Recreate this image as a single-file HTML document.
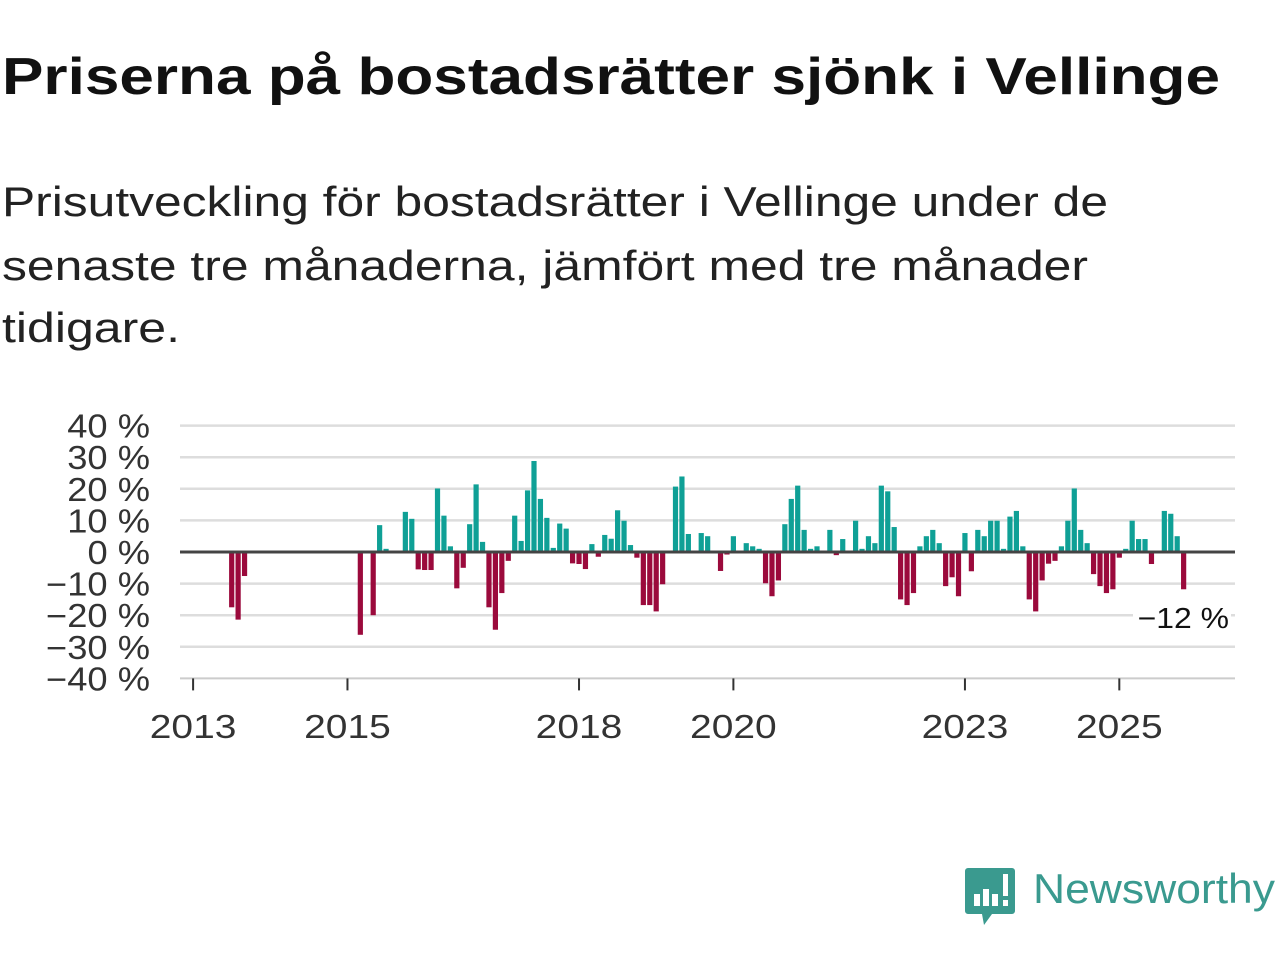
<!DOCTYPE html>
<html><head><meta charset="utf-8"><style>
body{margin:0;width:1280px;height:960px;background:#fff;overflow:hidden;font-family:"Liberation Sans","DejaVu Sans",sans-serif;position:relative}
.t{position:absolute;left:2px;top:47px;font-size:52px;font-weight:bold;color:#111;white-space:nowrap;transform-origin:0 0}
.s{position:absolute;left:2px;font-size:42px;color:#222;white-space:nowrap;transform-origin:0 0}
svg{position:absolute;left:0;top:0}
</style></head><body>
<div class="t fit" data-w="1218">Priserna på bostadsrätter sjönk i Vellinge</div>
<div class="s fit" data-w="1106" style="top:178px">Prisutveckling för bostadsrätter i Vellinge under de</div>
<div class="s fit" data-w="1086" style="top:242px">senaste tre månaderna, jämfört med tre månader</div>
<div class="s fit" data-w="178" style="top:304px">tidigare.</div>
<svg id="c" width="1280" height="960"></svg>
<svg width="1280" height="960" style="pointer-events:none">
<path d="M968,868 h44 a3,3 0 0 1 3,3 v40 a3,3 0 0 1 -3,3 h-20 l-8,11 l-2,-11 h-14 a3,3 0 0 1 -3,-3 v-40 a3,3 0 0 1 3,-3z" fill="#3a9a8f"/>
<rect x="974" y="894" width="6" height="12" fill="#fff"/><rect x="983" y="889" width="6" height="17" fill="#fff"/><rect x="992" y="894" width="6" height="12" fill="#fff"/><rect x="1003" y="874" width="5" height="22" fill="#fff"/><rect x="1003" y="900" width="5" height="6" fill="#fff"/>
<text x="1033" y="903" font-size="42" fill="#3a9a8f" textLength="242" lengthAdjust="spacingAndGlyphs" font-family="Liberation Sans, sans-serif">Newsworthy</text>
</svg>
<script>
document.querySelectorAll('.fit').forEach(el=>{const w=el.getBoundingClientRect().width;el.style.transform='scaleX('+(+el.dataset.w/w)+')';});
const monthIdx=[6,7,8,26,28,29,30,33,34,35,36,37,38,39,40,41,42,43,44,45,46,47,48,49,50,51,52,53,54,55,56,57,58,59,60,61,62,63,64,65,66,67,68,69,70,71,72,73,75,76,77,79,80,82,83,84,86,87,88,89,90,91,92,93,94,95,96,97,99,100,101,103,104,105,106,107,108,109,110,111,112,113,114,115,116,117,118,119,120,121,122,123,124,125,126,127,128,129,130,131,132,133,134,135,136,137,138,139,140,141,142,143,144,145,146,147,148,149,151,152,153,154];
const values=[-17.5,-21.4,-7.6,-26.2,-20,8.5,1,12.7,10.5,-5.5,-5.7,-5.7,20.1,11.5,1.8,-11.5,-5,8.8,21.4,3.2,-17.5,-24.6,-13,-2.8,11.5,3.5,19.5,28.8,16.8,10.8,1.3,9,7.4,-3.6,-3.8,-5.4,2.5,-1.5,5.4,4.2,13.2,9.9,2.2,-1.8,-16.8,-16.8,-18.8,-10.2,20.7,23.9,5.7,6,5,-6,-0.8,5,2.8,1.8,1,-9.9,-14,-9,8.8,16.8,21,7,1,1.8,7,-1,4.1,9.9,1,5,2.8,21,19.2,7.9,-15,-16.8,-13,1.8,5,7,2.8,-10.8,-8,-14,6,-6.1,7,5,9.9,9.9,1,11.2,13,1.8,-15,-18.8,-9,-3.7,-2.8,1.8,9.9,20.1,7,2.8,-7,-10.8,-13,-11.8,-1.8,1,9.9,4.1,4.1,-3.8,13,12.1,5,-11.8];
const yTicks=[40,30,20,10,0,-10,-20,-30,-40];
const yTickLabels=["40 %","30 %","20 %","10 %","0 %","−10 %","−20 %","−30 %","−40 %"];
const xYears=[2013,2015,2018,2020,2023,2025];
const lastLabel="−12 %";
const NS="http://www.w3.org/2000/svg",svg=document.getElementById('c');
const x=m=>193.1+m*6.432;
const y=v=>552-v*3.16;
function mk(t,a){const e=document.createElementNS(NS,t);for(const k in a)e.setAttribute(k,a[k]);svg.appendChild(e);return e;}
function widen(t,f){const w=t.getComputedTextLength();t.setAttribute('textLength',w*f);t.setAttribute('lengthAdjust','spacingAndGlyphs');}
yTicks.forEach((v,i)=>{
 if(v!==0&&v!==-40){const g=mk('line',{x1:180,x2:1235,y1:y(v),y2:y(v),stroke:'#ddd','stroke-width':2.5});
 
 }
 const t=mk('text',{x:150,y:y(v)+12,'text-anchor':'end','font-size':33,fill:'#333'});t.textContent=yTickLabels[i];
 
 
 widen(t,1.1);
});
const ax=mk('line',{x1:180,x2:1235,y1:y(-40),y2:y(-40),stroke:'#ccc','stroke-width':2});


xYears.forEach(yr=>{const xx=x((yr-2013)*12);
 const tk=mk('line',{x1:xx,x2:xx,y1:y(-40),y2:y(-40)+12,stroke:'#333','stroke-width':2});
 
 
 const t=mk('text',{x:xx,y:738,'text-anchor':'middle','font-size':33,fill:'#333'});t.textContent=yr;
 
 
 widen(t,1.18);
});
monthIdx.forEach((m,i)=>{const v=values[i];
 const r=mk('rect',{x:x(m)-2.6,width:5.2,y:Math.min(y(v),y(0)),height:Math.abs(y(v)-y(0)),fill:v>=0?'#0fa096':'#9b0a3c'});
 
 
});
const zl=mk('line',{x1:180,x2:1235,y1:y(0),y2:y(0),stroke:'#444','stroke-width':3});


const lb=mk('rect',{x:1133,y:600,width:98,height:34,fill:'#fff'});


const lt=mk('text',{x:1229,y:628,'text-anchor':'end','font-size':29,fill:'#111'});lt.textContent=lastLabel;


widen(lt,1.1);
</script>
</body></html>
